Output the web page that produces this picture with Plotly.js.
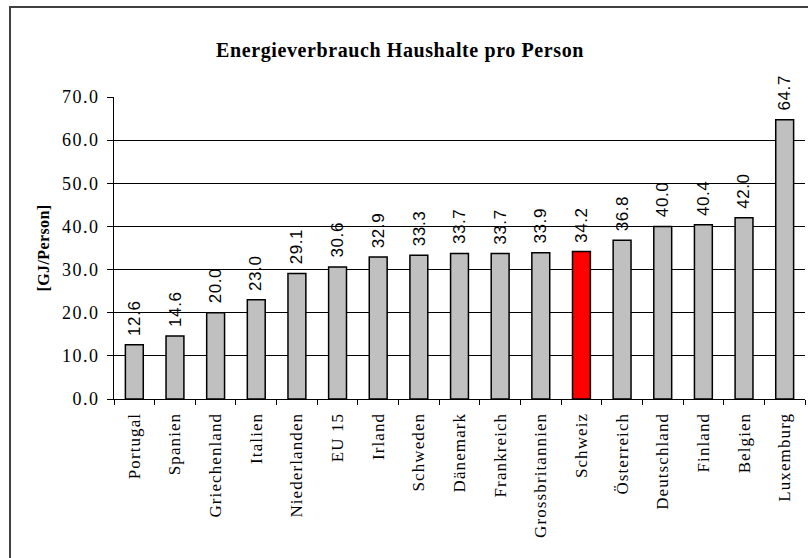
<!DOCTYPE html>
<html>
<head>
<meta charset="utf-8">
<script src="https://cdn.plot.ly/plotly-3.0.1.min.js"></script>
<style>
  html, body { margin: 0; padding: 0; background: #fff; overflow: hidden; }
  #wrap { position: relative; width: 808px; height: 558px; overflow: hidden; background: #fff; }
  #chart { position: absolute; left: 0; top: 0; width: 808px; height: 558px; }
  #frameL { position: absolute; left: 9px; top: 6px; width: 2px; height: 552px; background: #404040; z-index: 5; }
  #frameT { position: absolute; left: 9px; top: 6px; width: 799px; height: 2px; background: #404040; z-index: 5; }
  #cover { position: absolute; left: 806px; top: 8px; width: 2px; height: 550px; background: #fff; z-index: 4; }
  .gtitle { letter-spacing: 0.6px; }
  .xtick text { letter-spacing: 1.1px; }
  .ytick text { letter-spacing: 1.5px; }
  .annotation-text { letter-spacing: 0.6px; }
  .g-ytitle text { letter-spacing: 0.4px; }
</style>
</head>
<body>
<div id="wrap">
<div id="chart"></div>
<div id="cover"></div>
<div id="frameL"></div>
<div id="frameT"></div>
</div>
<script>
const countries = ["Portugal", "Spanien", "Griechenland", "Italien", "Niederlanden", "EU 15", "Irland", "Schweden", "Dänemark", "Frankreich", "Grossbritannien", "Schweiz", "Österreich", "Deutschland", "Finland", "Belgien", "Luxemburg"];
const values = [12.6, 14.6, 20.0, 23.0, 29.1, 30.6, 32.9, 33.3, 33.7, 33.7, 33.9, 34.2, 36.8, 40.0, 40.4, 42.0, 64.7];
const highlight = "Schweiz";
const yTicks = [0, 10, 20, 30, 40, 50, 60, 70];

const barColors = countries.map(c => c === highlight ? "#FF0000" : "#C0C0C0");

const serif = "Liberation Serif, Times New Roman, serif";
const sans = "Liberation Sans, Arial, sans-serif";

const trace = {
  type: "bar",
  x: countries,
  y: values,
  marker: { color: barColors, line: { color: "#000000", width: 1.5 } },
  cliponaxis: false,
  hoverinfo: "x+y"
};

const valueLabels = countries.map((c, i) => ({
  x: c,
  y: values[i],
  xref: "x",
  yref: "y",
  text: values[i].toFixed(1),
  showarrow: false,
  textangle: -90,
  xanchor: "center",
  yanchor: "bottom",
  yshift: 7,
  font: { family: sans, size: 17, color: "#000000" }
}));

const L = 114, R = 805, T = 97, B = 399;

const layout = {
  width: 808,
  height: 558,
  margin: { l: L, r: 808 - R, t: T, b: 558 - B, pad: 0 },
  paper_bgcolor: "rgba(0,0,0,0)",
  plot_bgcolor: "#FFFFFF",
  showlegend: false,
  bargap: 0.56,
  title: {
    text: "<b>Energieverbrauch Haushalte pro Person</b>",
    font: { family: serif, size: 20, color: "#000000" },
    x: 400 / 808, xref: "container", xanchor: "center",
    y: 1 - 50 / 558, yref: "container", yanchor: "middle"
  },
  xaxis: {
    type: "category",
    tickangle: -90,
    tickson: "boundaries",
    ticks: "outside",
    ticklen: 5,
    tickcolor: "#000000",
    showline: true,
    linecolor: "#000000",
    linewidth: 1,
    showgrid: false,
    tickfont: { family: serif, size: 17, color: "#000000" },
    ticklabelstandoff: 6,
    automargin: false
  },
  yaxis: {
    range: [0, 70],
    tickvals: yTicks,
    ticktext: yTicks.map(v => v.toFixed(1)),
    ticks: "outside",
    ticklen: 6,
    tickcolor: "#000000",
    showline: true,
    linecolor: "#000000",
    linewidth: 1,
    showgrid: true,
    gridcolor: "#000000",
    gridwidth: 1,
    zeroline: false,
    tickfont: { family: serif, size: 18, color: "#000000" },
    ticklabelstandoff: 4,
    title: {
      text: "<b>[GJ/Person]</b>",
      font: { family: serif, size: 16, color: "#000000" },
      standoff: 8
    },
    automargin: false
  },
  annotations: valueLabels
};

Plotly.newPlot("chart", [trace], layout, { displayModeBar: false, staticPlot: true });
</script>
</body>
</html>
